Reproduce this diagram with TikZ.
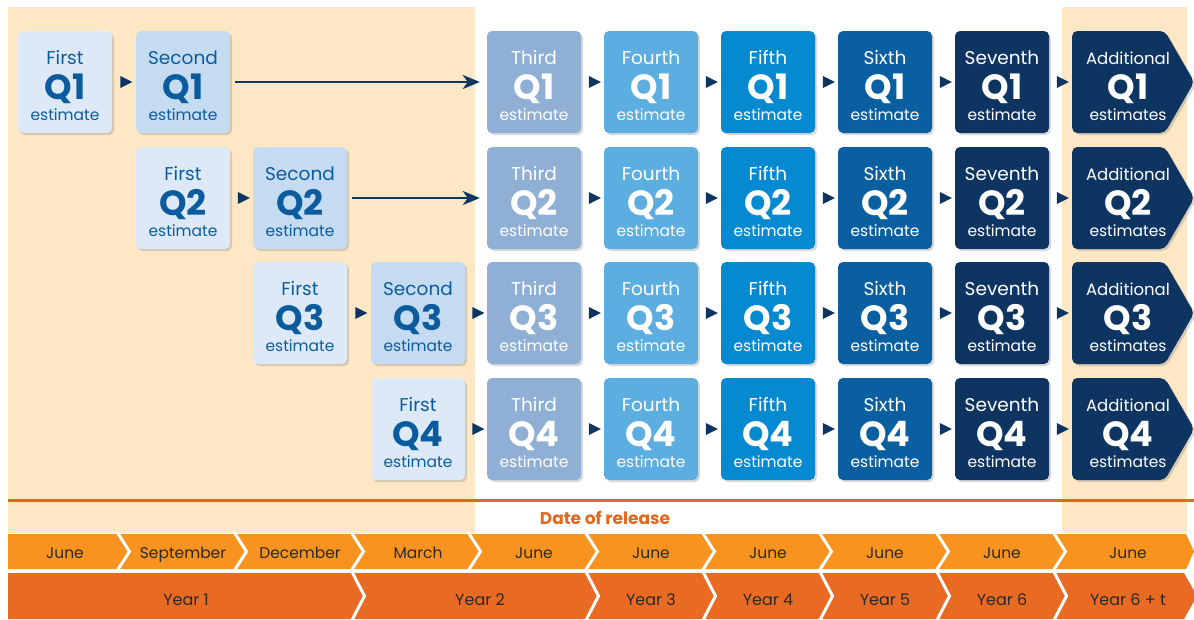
\documentclass[tikz,border=0pt]{standalone}
\usepackage{fontspec}
\setmainfont{Poppins}
\usetikzlibrary{shapes.geometric,shapes.symbols,shadows,arrows.meta}

\definecolor{bgorange}{HTML}{FDE7C4}
\definecolor{monthorange}{HTML}{F7931E}
\definecolor{yearorange}{HTML}{E96A22}
\definecolor{lineorange}{HTML}{E2671F}
\definecolor{textdark}{HTML}{2A2A2A}
\definecolor{qblue}{HTML}{0B5C9E}
\definecolor{navy}{HTML}{0E3462}
\definecolor{cfirst}{HTML}{DDE9F6}
\definecolor{csecond}{HTML}{C5DBF1}
\definecolor{cthird}{HTML}{8FB0D4}
\definecolor{cfourth}{HTML}{5CADE0}
\definecolor{cfifth}{HTML}{0589D1}
\definecolor{csixth}{HTML}{0A5FA0}
\definecolor{cseventh}{HTML}{0E3462}

\tikzset{
  box/.style={rounded corners=5pt,minimum width=94pt,minimum height=102pt,inner sep=0pt,
    text height=34pt,text depth=0pt,font=\fontsize{35}{35}\selectfont\bfseries,
    drop shadow={shadow xshift=2pt,shadow yshift=-2pt,opacity=.3}},
  toptxt/.style={anchor=base,yshift=-34pt,inner sep=0pt,font=\fontsize{18.5}{18.5}\selectfont},
  bottxt/.style={anchor=base,yshift=13pt,inner sep=0pt,font=\fontsize{15.5}{15.5}\selectfont},
  qbox/.style n args={4}{box,fill=#1,text=#2,
    label={[toptxt,text=#2]north:#3},label={[bottxt,text=#2]south:#4}},
  first/.style={qbox={cfirst}{qblue}{First}{estimate}},
  second/.style={qbox={csecond}{qblue}{Second}{estimate}},
  third/.style={qbox={cthird}{white}{Third}{estimate}},
  fourth/.style={qbox={cfourth}{white}{Fourth}{estimate}},
  fifth/.style={qbox={cfifth}{white}{Fifth}{estimate}},
  sixth/.style={qbox={csixth}{white}{Sixth}{estimate}},
  seventh/.style={qbox={cseventh}{white}{Seventh}{estimate}},
  addl/.style={box,fill=cseventh,text=white,shape=signal,signal to=east,
    signal from=nowhere,signal pointer angle=120,minimum width=122pt,
    execute at begin node={\hspace*{19pt}},
    label={[toptxt,text=white,xshift=9.5pt,font=\fontsize{16.5}{16.5}\selectfont]north:Additional},
    label={[bottxt,text=white,xshift=9.5pt]south:estimates}},
  tip/.style={isosceles triangle,isosceles triangle stretches,fill=navy,inner sep=0pt,
    minimum width=12pt,minimum height=12pt},
  longarr/.style={navy,line width=2.4pt,shorten <=5pt,shorten >=7pt,
    -{Stealth[length=17pt,width=14pt,inset=5pt]}},
  gap/.style={white,line width=3pt},
  month/.style={anchor=base,inner sep=0pt,text=textdark,font=\fontsize{15.5}{15.5}\selectfont},
  year/.style={anchor=base,inner sep=0pt,text=textdark,font=\fontsize{16}{16}\selectfont}
}

\begin{document}
\begin{tikzpicture}[x=1pt,y=-1pt]
  \useasboundingbox (0,0) rectangle (1194,619);

  %% backgrounds
  \fill[bgorange] (8,7) rectangle (475,533);
  \fill[bgorange] (1062,7) rectangle (1187,533);
  \draw[lineorange,line width=3pt] (8,500) -- (1194,500);
  \node[anchor=base,inner sep=0pt,text=lineorange,font=\fontsize{17}{17}\selectfont\bfseries]
    (release) at (605,524) {Date of release};

  %% row 1
  \node[first]   (first1)   at (65,82)   {Q1};
  \node[second]  (second1)  at (183,82)  {Q1};
  \node[third]   (third1)   at (534,82)  {Q1};
  \node[fourth]  (fourth1)  at (651,82)  {Q1};
  \node[fifth]   (fifth1)   at (768,82)  {Q1};
  \node[sixth]   (sixth1)   at (885,82)  {Q1};
  \node[seventh] (seventh1) at (1002,82) {Q1};
  \node[addl]    (add1)     at (1118.5,82) {Q1};

  %% row 2
  \node[first]   (first2)   at (183,198)  {Q2};
  \node[second]  (second2)  at (300,198)  {Q2};
  \node[third]   (third2)   at (534,198)  {Q2};
  \node[fourth]  (fourth2)  at (651,198)  {Q2};
  \node[fifth]   (fifth2)   at (768,198)  {Q2};
  \node[sixth]   (sixth2)   at (885,198)  {Q2};
  \node[seventh] (seventh2) at (1002,198) {Q2};
  \node[addl]    (add2)     at (1118.5,198) {Q2};

  %% row 3
  \node[first]   (first3)   at (300,313)  {Q3};
  \node[second]  (second3)  at (418,313)  {Q3};
  \node[third]   (third3)   at (534,313)  {Q3};
  \node[fourth]  (fourth3)  at (651,313)  {Q3};
  \node[fifth]   (fifth3)   at (768,313)  {Q3};
  \node[sixth]   (sixth3)   at (885,313)  {Q3};
  \node[seventh] (seventh3) at (1002,313) {Q3};
  \node[addl]    (add3)     at (1118.5,313) {Q3};

  %% row 4
  \node[first]   (first4)   at (418,429)  {Q4};
  \node[third]   (third4)   at (534,429)  {Q4};
  \node[fourth]  (fourth4)  at (651,429)  {Q4};
  \node[fifth]   (fifth4)   at (768,429)  {Q4};
  \node[sixth]   (sixth4)   at (885,429)  {Q4};
  \node[seventh] (seventh4) at (1002,429) {Q4};
  \node[addl]    (add4)     at (1118.5,429) {Q4};

  %% arrows
  \path (first1.east) -- node[tip] {} (second1.west);
  \draw[longarr] (second1.east) -- (third1.west);
  \path (first2.east) -- node[tip] {} (second2.west);
  \draw[longarr] (second2.east) -- (third2.west);
  \path (first3.east) -- node[tip] {} (second3.west);
  \path (second3.east) -- node[tip] {} (third3.west);
  \path (first4.east) -- node[tip] {} (third4.west);

  \path (third1.east) -- node[tip] {} (fourth1.west);
  \path (fourth1.east) -- node[tip] {} (fifth1.west);
  \path (fifth1.east) -- node[tip] {} (sixth1.west);
  \path (sixth1.east) -- node[tip] {} (seventh1.west);
  \path (seventh1.east) -- node[tip] {} (add1.west);

  \path (third2.east) -- node[tip] {} (fourth2.west);
  \path (fourth2.east) -- node[tip] {} (fifth2.west);
  \path (fifth2.east) -- node[tip] {} (sixth2.west);
  \path (sixth2.east) -- node[tip] {} (seventh2.west);
  \path (seventh2.east) -- node[tip] {} (add2.west);

  \path (third3.east) -- node[tip] {} (fourth3.west);
  \path (fourth3.east) -- node[tip] {} (fifth3.west);
  \path (fifth3.east) -- node[tip] {} (sixth3.west);
  \path (sixth3.east) -- node[tip] {} (seventh3.west);
  \path (seventh3.east) -- node[tip] {} (add3.west);

  \path (third4.east) -- node[tip] {} (fourth4.west);
  \path (fourth4.east) -- node[tip] {} (fifth4.west);
  \path (fifth4.east) -- node[tip] {} (sixth4.west);
  \path (sixth4.east) -- node[tip] {} (seventh4.west);
  \path (seventh4.east) -- node[tip] {} (add4.west);

  %% month bar
  \fill[monthorange] (8,534) -- (1186,534) -- (1194,551.5) -- (1186,569) -- (8,569) -- cycle;
  \draw[gap] (117,532) -- (129.5,551.5) -- (117,571);
  \draw[gap] (234,532) -- (246.5,551.5) -- (234,571);
  \draw[gap] (351,532) -- (363.5,551.5) -- (351,571);
  \draw[gap] (468,532) -- (480.5,551.5) -- (468,571);
  \draw[gap] (585,532) -- (597.5,551.5) -- (585,571);
  \draw[gap] (702,532) -- (714.5,551.5) -- (702,571);
  \draw[gap] (819,532) -- (831.5,551.5) -- (819,571);
  \draw[gap] (936,532) -- (948.5,551.5) -- (936,571);
  \draw[gap] (1053,532) -- (1065.5,551.5) -- (1053,571);

  \node[month] (m1)  at (65,558)   {June};
  \node[month] (m2)  at (183,558)  {September};
  \node[month] (m3)  at (300,558)  {December};
  \node[month] (m4)  at (418,558)  {March};
  \node[month] (m5)  at (534,558)  {June};
  \node[month] (m6)  at (651,558)  {June};
  \node[month] (m7)  at (768,558)  {June};
  \node[month] (m8)  at (885,558)  {June};
  \node[month] (m9)  at (1002,558) {June};
  \node[month] (m10) at (1128,558) {June};

  %% year bar
  \fill[yearorange] (8,573) -- (1184,573) -- (1197,596) -- (1184,619) -- (8,619) -- cycle;
  \draw[gap] (351,570) -- (364.5,596) -- (351,622);
  \draw[gap] (585,570) -- (598.5,596) -- (585,622);
  \draw[gap] (702,570) -- (715.5,596) -- (702,622);
  \draw[gap] (819,570) -- (832.5,596) -- (819,622);
  \draw[gap] (936,570) -- (949.5,596) -- (936,622);
  \draw[gap] (1053,570) -- (1066.5,596) -- (1053,622);

  \node[year] (y1) at (186,605)  {Year 1};
  \node[year] (y2) at (480,605)  {Year 2};
  \node[year] (y3) at (651,605)  {Year 3};
  \node[year] (y4) at (768,605)  {Year 4};
  \node[year] (y5) at (885,605)  {Year 5};
  \node[year] (y6) at (1002,605) {Year 6};
  \node[year] (y7) at (1128,605) {Year 6 + t};
\end{tikzpicture}
\end{document}
